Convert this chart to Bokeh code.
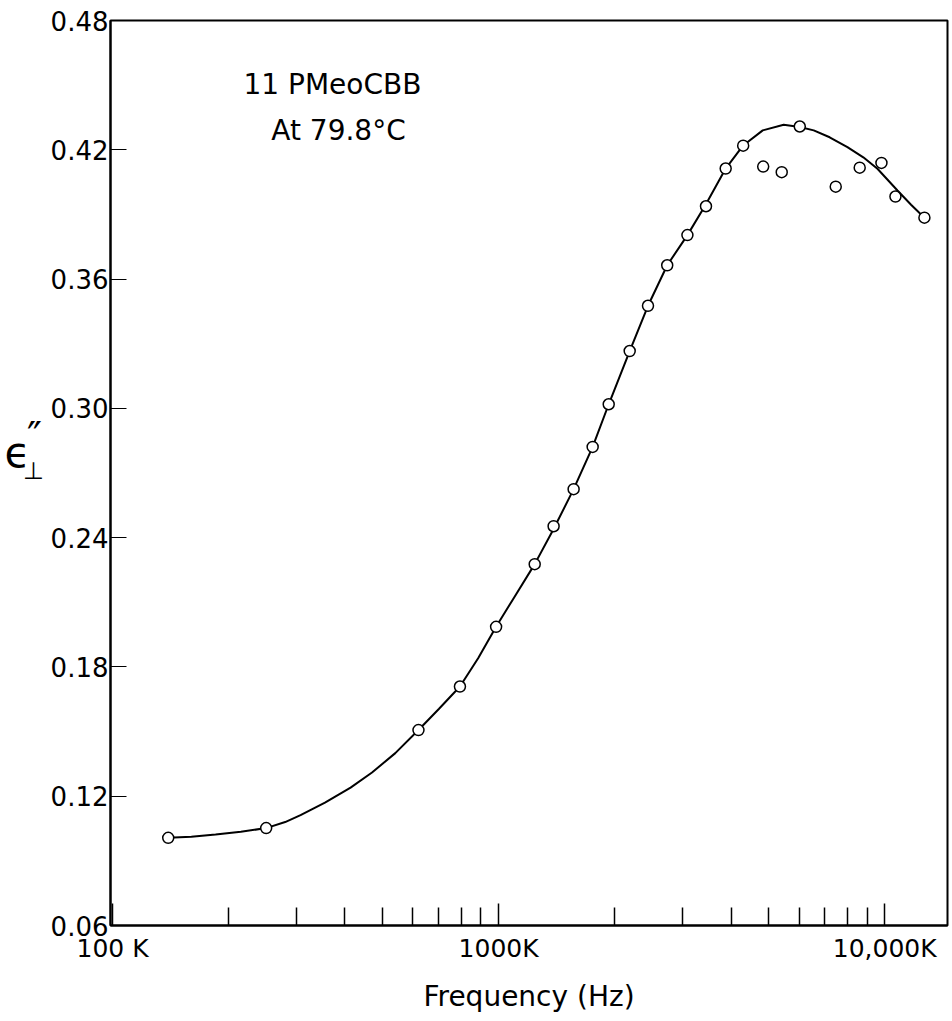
from bokeh.plotting import figure
from bokeh.layouts import row
from bokeh.models import Range1d, FixedTicker, PrintfTickFormatter, Label
from bokeh.core.properties import value
from bokeh.embed import file_html
from bokeh.resources import INLINE

# Measured points: frequency (K = kHz) and epsilon'' perpendicular
freq_k = [139.4, 250, 620, 794, 985, 1240, 1388, 1564, 1752, 1928, 2185, 2437, 2733,
          3083, 3444, 3873, 4299, 4844, 5410, 6025, 7466, 8613, 9806, 10660, 12670]
eps = [0.1007, 0.1052, 0.1507, 0.1709, 0.1986, 0.2277, 0.2453, 0.2625, 0.2821, 0.3019,
       0.3266, 0.3476, 0.3664, 0.3804, 0.3938, 0.4113, 0.4219, 0.4122, 0.4096, 0.4308,
       0.4029, 0.4117, 0.4139, 0.3983, 0.3885]

# Smooth fitted curve drawn through the data
curve_freq_k = [139.4, 160, 184.9, 215, 250, 280, 306.9, 355, 413.6, 470, 540, 620, 700,
                794, 885, 985, 1100, 1240, 1388, 1564, 1752, 1928, 2185, 2437, 2733,
                3083, 3440, 3873, 4299, 4831, 5474, 6025, 6548, 7200, 8005, 8800, 9575,
                10790, 11700, 12670]
curve_eps = [0.1007, 0.1012, 0.1022, 0.1035, 0.1052, 0.1080, 0.1112, 0.1170, 0.1240,
             0.1310, 0.1400, 0.1507, 0.1605, 0.1709, 0.1840, 0.1986, 0.2126, 0.2277,
             0.2440, 0.2625, 0.2821, 0.3019, 0.3266, 0.3476, 0.3664, 0.3804, 0.3946,
             0.4113, 0.4220, 0.4290, 0.4316, 0.4306, 0.4290, 0.4258, 0.4212, 0.4165,
             0.4112, 0.4011, 0.3945, 0.3885]

y_ticks = [0.06, 0.12, 0.18, 0.24, 0.30, 0.36, 0.42, 0.48]
x_major = [100, 1000, 10000]
x_minor = [200, 300, 400, 500, 600, 700, 800, 900,
           2000, 3000, 4000, 5000, 6000, 7000, 8000, 9000]
x_labels = {100: "100 K", 1000: "1000K", 10000: "10,000K"}

# y-axis symbol pieces (epsilon, double prime, perpendicular)
ylab_texts = ["ϵ", "″", "⊥"]
ylab_sizes = ["42px", "40px", "24px"]

FONT = "DejaVu Sans"
LEFT_W = 46
H = 1021
TOP, BOTTOM = 20, 925

p = figure(width=952 - LEFT_W, height=H, x_axis_type="log",
           x_range=Range1d(98.8, 14540), y_range=Range1d(0.06, 0.48),
           output_backend="svg", toolbar_location=None,
           min_border_left=110 - LEFT_W, min_border_right=5, min_border_top=TOP,
           min_border_bottom=H - BOTTOM)
p.background_fill_color = "white"
p.border_fill_color = "white"
p.outline_line_color = "black"
p.outline_line_width = 2
p.xgrid.visible = False
p.ygrid.visible = False

xaxis = p.xaxis[0]
xaxis.ticker = FixedTicker(ticks=x_major, minor_ticks=x_minor)
xaxis.major_label_overrides = x_labels
xaxis.axis_label = "Frequency (Hz)"
xaxis.axis_label_text_font = FONT
xaxis.axis_label_text_font_size = "28px"
xaxis.axis_label_text_font_style = "normal"
xaxis.axis_label_text_color = "black"
xaxis.axis_label_standoff = 14
xaxis.major_label_text_font = FONT
xaxis.major_label_text_font_size = "25px"
xaxis.major_label_text_color = "black"
xaxis.major_label_standoff = 8
xaxis.major_tick_in = 22
xaxis.major_tick_out = 0
xaxis.minor_tick_in = 18
xaxis.minor_tick_out = 0
xaxis.major_tick_line_width = 1.5
xaxis.minor_tick_line_width = 1.5
xaxis.major_tick_line_color = "black"
xaxis.minor_tick_line_color = "black"
xaxis.axis_line_width = 2
xaxis.axis_line_color = "black"

yaxis = p.yaxis[0]
yaxis.ticker = FixedTicker(ticks=y_ticks)
yaxis.formatter = PrintfTickFormatter(format="%.2f")
yaxis.major_label_text_font = FONT
yaxis.major_label_text_font_size = "26px"
yaxis.major_label_text_color = "black"
yaxis.major_label_standoff = 2
yaxis.major_tick_in = 16
yaxis.major_tick_out = 0
yaxis.minor_tick_in = 0
yaxis.minor_tick_out = 0
yaxis.major_tick_line_width = 1
yaxis.major_tick_line_color = "black"
yaxis.axis_line_width = 2
yaxis.axis_line_color = "black"

p.line(curve_freq_k, curve_eps, line_color="black", line_width=2)
p.scatter(freq_k, eps, marker="circle", size=11, line_color="black", line_width=1.5,
          fill_color="white")

# screen units here are measured from the frame's bottom-left corner
def add_text(x, y, text, size):
    p.add_layout(Label(x=x, y=y, x_units="screen", y_units="screen", text=text,
                       text_font=FONT, text_font_size=size, text_color="black",
                       text_align="center", text_baseline="middle"))

add_text(222, 841, "11 PMeoCBB", "28px")
add_text(228, 795, "At 79.8°C", "28px")

# narrow side panel holding the y-axis symbol (pixel coordinates, y downward)
side = figure(width=LEFT_W, height=H, x_range=Range1d(0, LEFT_W),
              y_range=Range1d(BOTTOM, TOP),
              output_backend="svg", toolbar_location=None,
              min_border_left=0, min_border_right=0, min_border_top=TOP,
              min_border_bottom=H - BOTTOM)
side.axis.visible = False
side.xgrid.visible = False
side.ygrid.visible = False
side.outline_line_color = None
side.background_fill_color = "white"
side.border_fill_color = "white"
ylab_x = [17, 34, 33]
ylab_y = [452, 436, 470]
for tx, sx, sy, sz in zip(ylab_texts, ylab_x, ylab_y, ylab_sizes):
    side.text(x=[sx], y=[sy], text=[tx], text_font=value(FONT), text_font_size=sz,
              text_color="black", text_align="center", text_baseline="middle")

layout = row(side, p)
open("out.html", "w").write(file_html(layout, INLINE))
